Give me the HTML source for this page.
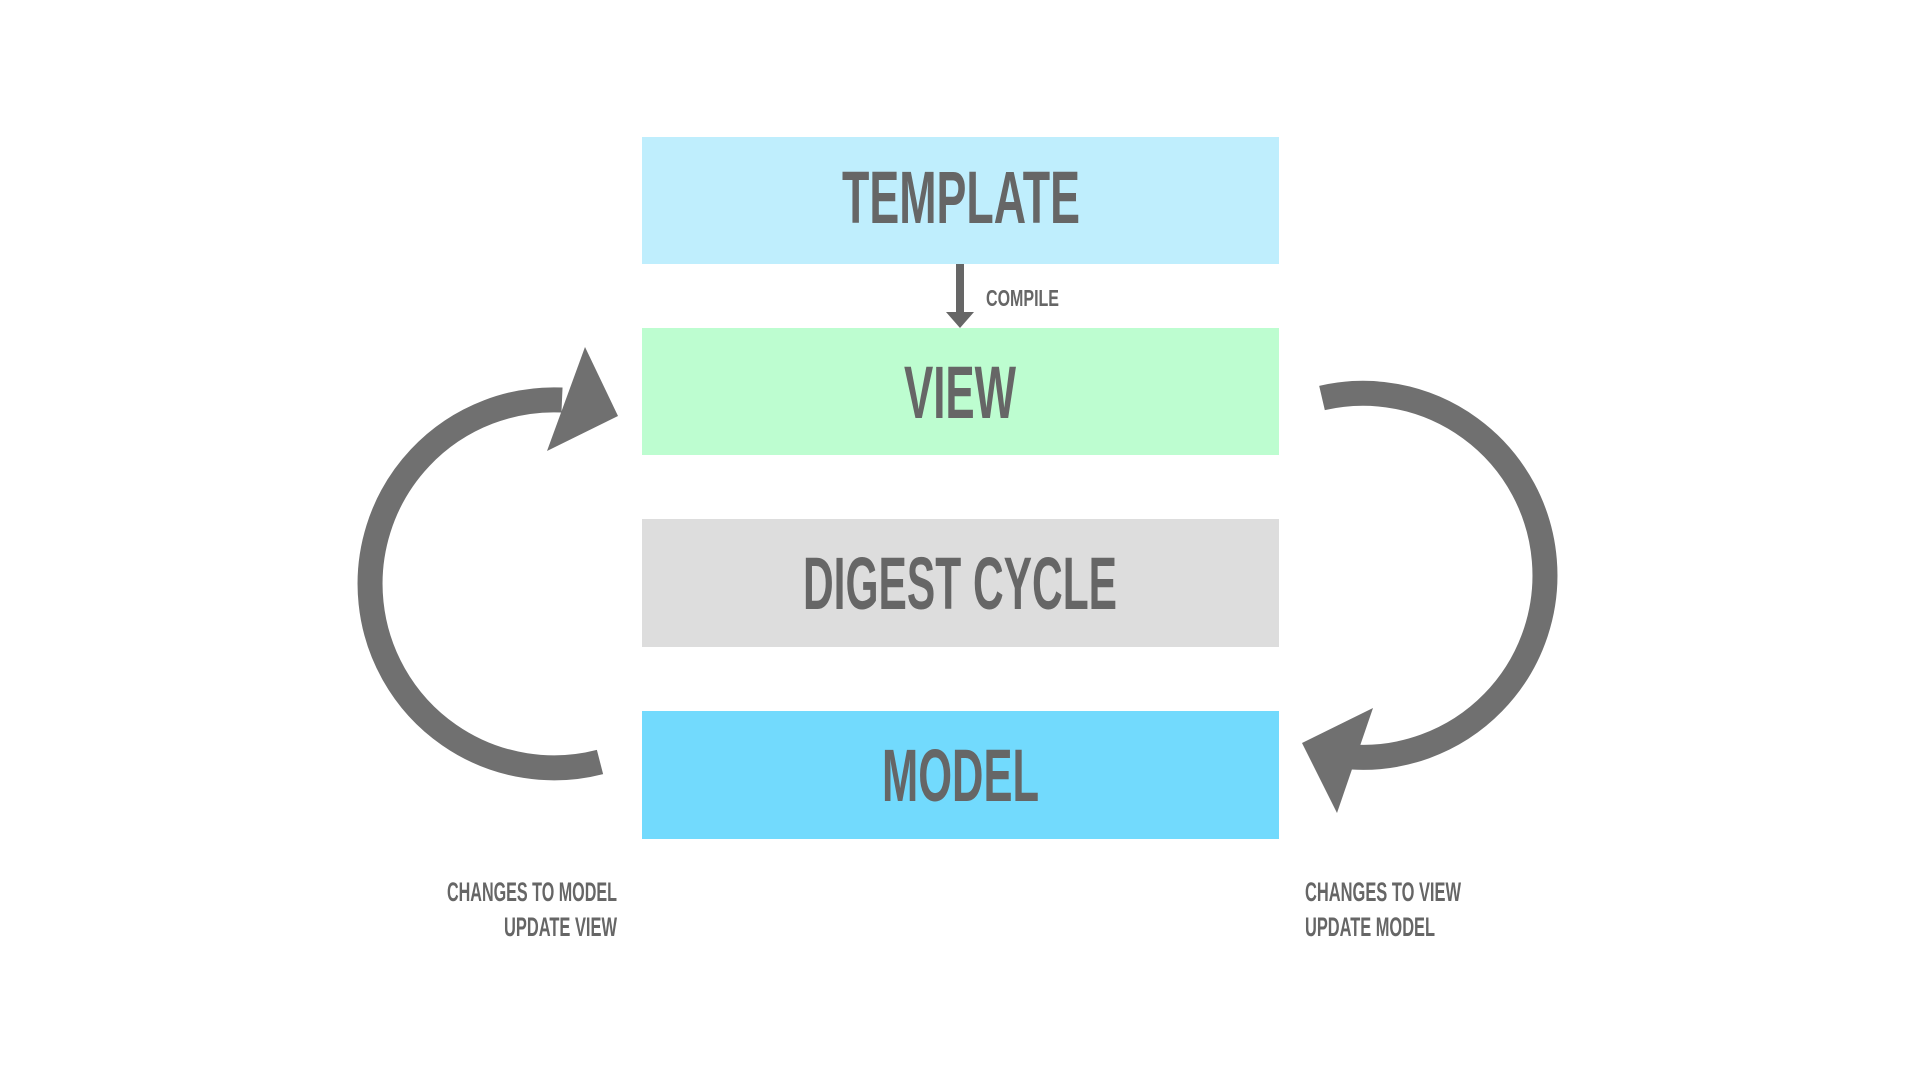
<!DOCTYPE html>
<html><head><meta charset="utf-8"><style>html,body{margin:0;padding:0;background:#fff;}svg{display:block}</style></head>
<body>
<svg width="1920" height="1080" viewBox="0 0 1920 1080" xmlns="http://www.w3.org/2000/svg">
<rect x="0" y="0" width="1920" height="1080" fill="#fff"/>
<rect x="642" y="137" width="637" height="127" fill="#bfeefd"/>
<rect x="642" y="328" width="637" height="127" fill="#bdfdd0"/>
<rect x="642" y="519" width="637" height="128" fill="#dddddd"/>
<rect x="642" y="711" width="637" height="128" fill="#72dafd"/>
<g font-family="'Liberation Sans Narrow','Liberation Sans',sans-serif" font-weight="bold" fill="#666">
<text x="842" y="223" font-size="74" textLength="238" lengthAdjust="spacingAndGlyphs">TEMPLATE</text>
<text x="904" y="418" font-size="74" textLength="112" lengthAdjust="spacingAndGlyphs">VIEW</text>
<text x="803" y="609" font-size="74" textLength="314" lengthAdjust="spacingAndGlyphs">DIGEST CYCLE</text>
<text x="882" y="801" font-size="74" textLength="157" lengthAdjust="spacingAndGlyphs">MODEL</text>
<text x="986" y="306" font-size="23" textLength="73" lengthAdjust="spacingAndGlyphs">COMPILE</text>
<text x="447" y="901" font-size="27" textLength="170" lengthAdjust="spacingAndGlyphs">CHANGES TO MODEL</text>
<text x="504" y="936" font-size="27" textLength="113" lengthAdjust="spacingAndGlyphs">UPDATE VIEW</text>
<text x="1305" y="901" font-size="27" textLength="156" lengthAdjust="spacingAndGlyphs">CHANGES TO VIEW</text>
<text x="1305" y="936" font-size="27" textLength="130" lengthAdjust="spacingAndGlyphs">UPDATE MODEL</text>
</g>
<rect x="956" y="264" width="8" height="50" fill="#666"/>
<polygon points="946,312 974,312 960,328" fill="#666"/>
<g fill="none" stroke="#707070" stroke-width="25">
<path d="M600,762 A184,184 0 1 1 562,400"/>
<path d="M1322,398 A182,182 0 1 1 1352,757"/>
</g>
<polygon points="585,347 618,416 547,451" fill="#707070"/>
<polygon points="1373,708 1302,743 1337,813" fill="#707070"/>
</svg>
</body></html>
